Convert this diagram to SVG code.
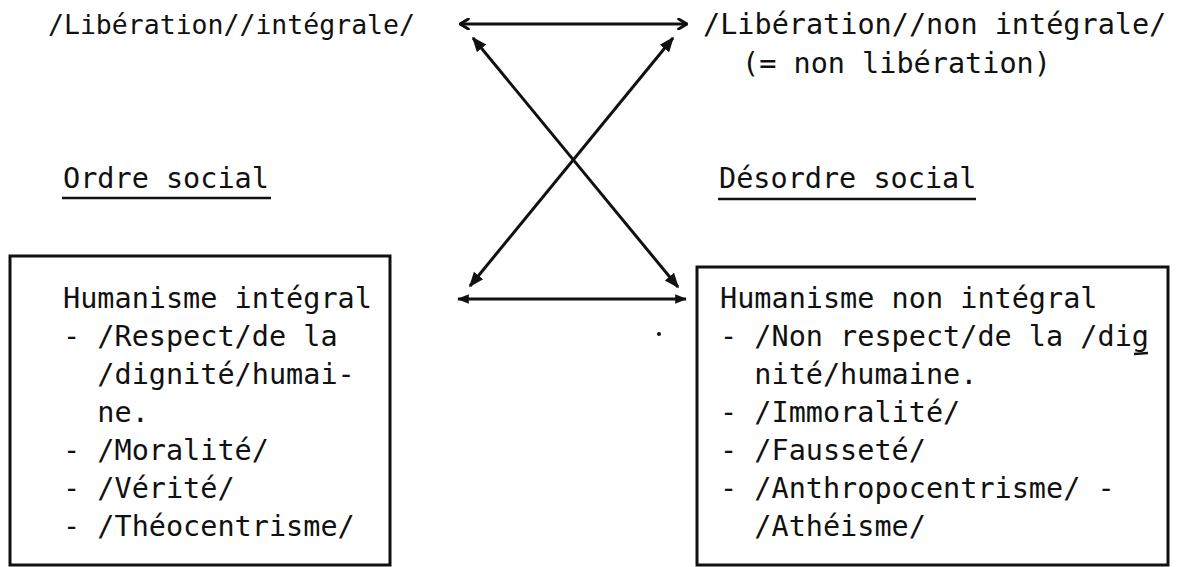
<svg xmlns="http://www.w3.org/2000/svg" width="1180" height="567" viewBox="0 0 1180 567">
  <style>
    text { font-family: "DejaVu Sans Mono", "Liberation Mono", monospace; fill: #111; white-space: pre; }
    .t { font-size: 28.5px; }
    .box { fill: none; stroke: #111; stroke-width: 3; }
    .ul { stroke: #111; stroke-width: 2.5; }
    .link { stroke: #111; stroke-width: 3; fill: none; }
  </style>
  <defs>
    <!-- open chevron for the top double arrow -->
    <marker id="chev" viewBox="0 0 10 10" refX="9" refY="5" markerWidth="4" markerHeight="4" orient="auto-start-reverse" markerUnits="strokeWidth">
      <path d="M2,0.8 L9,5 L2,9.2" fill="none" stroke="#111" stroke-width="2.4" stroke-linejoin="round" stroke-linecap="round"/>
    </marker>
    <!-- filled heads for the other arrows -->
    <marker id="head" viewBox="0 0 10 10" refX="9" refY="5" markerWidth="5" markerHeight="5" orient="auto-start-reverse" markerUnits="strokeWidth">
      <path d="M0,1 L10,5 L0,9 Z" fill="#111"/>
    </marker>
    <marker id="headS" viewBox="0 0 10 10" refX="9" refY="5" markerWidth="4" markerHeight="4" orient="auto-start-reverse" markerUnits="strokeWidth">
      <path d="M0,1 L10,5 L0,9 Z" fill="#111"/>
    </marker>
  </defs>

  <!-- top row: the two notions of liberation -->
  <g id="liberation-integrale">
    <text x="48" y="34" font-size="26.5">/Libération//intégrale/</text>
  </g>
  <g id="liberation-non-integrale">
    <text class="t" x="703" y="34">/Libération//non intégrale/</text>
    <text class="t" x="742" y="73">(= non libération)</text>
  </g>

  <!-- column headings -->
  <g id="ordre-social">
    <text class="t" x="63" y="188">Ordre social</text>
    <line class="ul" x1="62" y1="198" x2="271" y2="198"/>
  </g>
  <g id="desordre-social">
    <text class="t" x="719" y="188">Désordre social</text>
    <line class="ul" x1="718" y1="199" x2="976" y2="199"/>
  </g>

  <!-- left box -->
  <g id="humanisme-integral">
    <rect class="box" x="10" y="256" width="380" height="309"/>
    <text class="t" x="63" y="308">Humanisme intégral</text>
    <text class="t" x="63" y="346">- /Respect/de la</text>
    <text class="t" x="63" y="384">  /dignité/humai-</text>
    <text class="t" x="63" y="422">  ne.</text>
    <text class="t" x="63" y="460">- /Moralité/</text>
    <text class="t" x="63" y="498">- /Vérité/</text>
    <text class="t" x="63" y="536">- /Théocentrisme/</text>
  </g>

  <!-- right box -->
  <g id="humanisme-non-integral">
    <rect class="box" x="697" y="267" width="471" height="298"/>
    <text class="t" x="720" y="308">Humanisme non intégral</text>
    <text class="t" x="720" y="346">- /Non respect/de la /dig</text>
    <path d="M1134,354 L1148,353" stroke="#111" stroke-width="2.5"/>
    <text class="t" x="720" y="384">  nité/humaine.</text>
    <text class="t" x="720" y="422">- /Immoralité/</text>
    <text class="t" x="720" y="460">- /Fausseté/</text>
    <text class="t" x="720" y="498">- /Anthropocentrisme/ -</text>
    <text class="t" x="720" y="536">  /Athéisme/</text>
  </g>

  <!-- stray typewriter dot -->
  <circle cx="659" cy="334" r="2" fill="#111"/>

  <!-- connectors -->
  <g id="connectors">
    <line class="link" x1="460" y1="24" x2="687" y2="24" marker-start="url(#chev)" marker-end="url(#chev)"/>
    <line class="link" x1="458" y1="299" x2="686" y2="299" marker-start="url(#headS)" marker-end="url(#headS)"/>
    <line class="link" x1="678" y1="287" x2="473" y2="38" marker-start="url(#head)" marker-end="url(#head)"/>
    <line class="link" x1="470" y1="286" x2="673" y2="38" marker-start="url(#head)" marker-end="url(#head)"/>
  </g>
</svg>
